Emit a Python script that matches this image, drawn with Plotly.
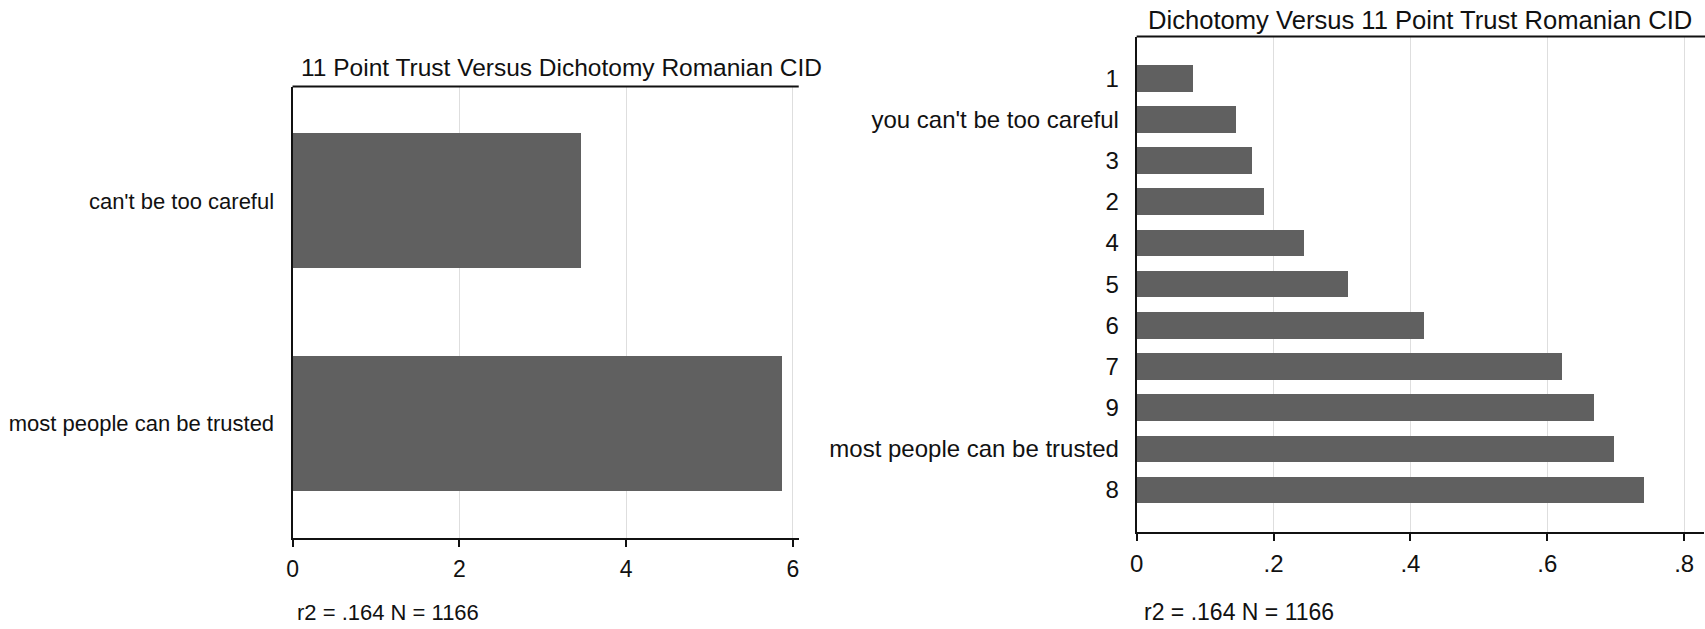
import plotly.graph_objects as go

W, H = 1705, 629

# Left panel data
left_title = "11 Point Trust Versus Dichotomy Romanian CID"
left_cats = ["can't be too careful", "most people can be trusted"]
left_vals = [3.456, 5.876]
left_ticks = [0, 2, 4, 6]
left_ticktext = ["0", "2", "4", "6"]

# Right panel data
right_title = "Dichotomy Versus 11 Point Trust Romanian CID"
right_cats = ["1", "you can't be too careful", "3", "2", "4", "5", "6", "7", "9",
              "most people can be trusted", "8"]
right_vals = [0.083, 0.145, 0.169, 0.186, 0.244, 0.309, 0.420, 0.621, 0.668, 0.697, 0.741]
right_ticks = [0, 0.2, 0.4, 0.6, 0.8]
right_ticktext = ["0", ".2", ".4", ".6", ".8"]

note = "r2 = .164 N = 1166"

FONT = "Liberation Sans, Arial, sans-serif"
BAR = "#606060"
GRID = "#dedede"
TXT = "#111111"


def px_x(p):
    return p / W


def px_y(p):
    return 1 - p / H


fig = go.Figure()
fig.add_trace(go.Bar(x=left_vals, y=left_cats, orientation="h", width=0.606,
                     marker=dict(color=BAR, line=dict(width=0)),
                     xaxis="x", yaxis="y", showlegend=False, hoverinfo="skip"))
fig.add_trace(go.Bar(x=right_vals, y=right_cats, orientation="h", width=0.65,
                     marker=dict(color=BAR, line=dict(width=0)),
                     xaxis="x2", yaxis="y2", showlegend=False, hoverinfo="skip"))

common_x = dict(showgrid=True, gridcolor=GRID, gridwidth=1, zeroline=False,
                showline=True, linecolor="#111111", linewidth=2, mirror=False,
                ticks="outside", ticklen=7, tickwidth=2, tickcolor="#111111",
                fixedrange=True)
common_y = dict(showgrid=False, zeroline=False, showline=True, linecolor="#111111",
                linewidth=2, ticks="", fixedrange=True, type="category")

fig.update_layout(
    width=W, height=H,
    margin=dict(l=0, r=0, t=0, b=0),
    paper_bgcolor="white", plot_bgcolor="white",
    font=dict(family=FONT, color=TXT),
    bargap=0,
    xaxis=dict(common_x, domain=[px_x(286.7), px_x(795)], range=[0, 6.071],
               tickvals=left_ticks, ticktext=left_ticktext,
               tickfont=dict(size=23, family=FONT, color=TXT), anchor="y",
               ticklabelstandoff=2),
    yaxis=dict(common_y, domain=[px_y(538), px_y(86.5)], range=[1.513, -0.513],
               tickfont=dict(size=22, family=FONT, color=TXT), anchor="x",
               ticklabelstandoff=12),
    xaxis2=dict(common_x, domain=[px_x(1134.3), px_x(1704)], range=[0, 0.829],
                tickvals=right_ticks, ticktext=right_ticktext,
                tickfont=dict(size=24, family=FONT, color=TXT), anchor="y2",
                ticklabelstandoff=2),
    yaxis2=dict(common_y, domain=[px_y(531.7), px_y(36.5)], range=[11.01, -1.01],
                tickfont=dict(size=24, family=FONT, color=TXT), anchor="x2",
                ticklabelstandoff=11),
)

# top frame lines
fig.add_shape(type="line", xref="paper", yref="paper",
              x0=px_x(286.7), x1=px_x(795), y0=px_y(86.5), y1=px_y(86.5),
              line=dict(color="#111111", width=2))
fig.add_shape(type="line", xref="paper", yref="paper",
              x0=px_x(1134.3), x1=1, y0=px_y(36.5), y1=px_y(36.5),
              line=dict(color="#111111", width=2))

# titles
fig.add_annotation(text=left_title, xref="paper", yref="paper",
                   x=px_x(293), y=px_y(67), xanchor="left", yanchor="middle",
                   showarrow=False, font=dict(size=24.5, family=FONT, color=TXT))
fig.add_annotation(text=right_title, xref="paper", yref="paper",
                   x=px_x(1144), y=px_y(20), xanchor="left", yanchor="middle",
                   showarrow=False, font=dict(size=25.6, family=FONT, color=TXT))

# notes
fig.add_annotation(text=note, xref="paper", yref="paper",
                   x=px_x(289), y=px_y(612), xanchor="left", yanchor="middle",
                   showarrow=False, font=dict(size=22, family=FONT, color=TXT))
fig.add_annotation(text=note, xref="paper", yref="paper",
                   x=px_x(1140), y=px_y(612), xanchor="left", yanchor="middle",
                   showarrow=False, font=dict(size=23, family=FONT, color=TXT))

fig.write_html("out.html",
               config={"displayModeBar": False, "staticPlot": True},
               post_script="document.body.style.margin='0';document.body.style.overflow='hidden';")
